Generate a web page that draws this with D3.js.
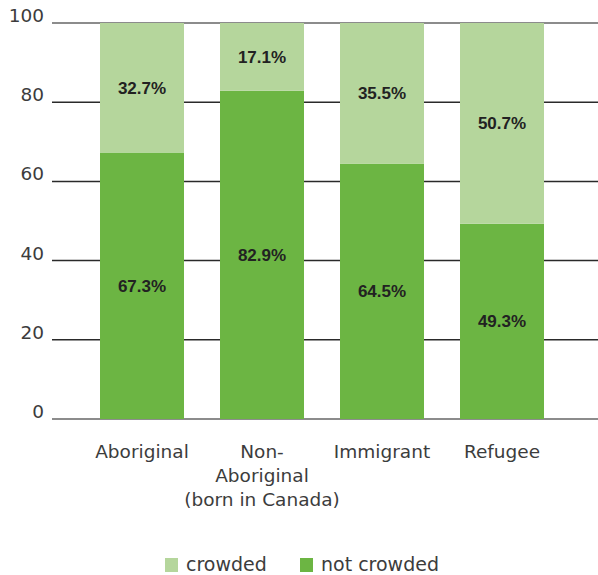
<!DOCTYPE html>
<html><head><meta charset="utf-8">
<script src="https://cdn.jsdelivr.net/npm/d3@7"></script>
<style>body{margin:0;background:#fff}svg{display:block}</style>
</head><body>
<svg id="c" width="598" height="575"></svg>
<script>
const categories = [["Aboriginal"], ["Non-", "Aboriginal", "(born in Canada)"], ["Immigrant"], ["Refugee"]];
const notCrowded = [67.3, 82.9, 64.5, 49.3];
const crowded = [32.7, 17.1, 35.5, 50.7];
const yTicks = [0, 20, 40, 60, 80, 100];
const seriesNames = ["crowded", "not crowded"];
const colors = {"crowded": "#b5d69c", "not crowded": "#6cb543"};

const svg = d3.select("#c");
const font = "'DejaVu Sans', sans-serif";
const bold = "'Liberation Sans', Arial, sans-serif";
const x = d3.scaleBand().domain(d3.range(categories.length)).range([82, 562]).paddingInner(0.3).paddingOuter(0.15);
const y = d3.scaleLinear().domain([0, 100]).range([419, 23]);

svg.append("g").selectAll("line").data(yTicks).join("line")
  .attr("x1", 52).attr("x2", 598)
  .attr("y1", d => y(d)).attr("y2", d => y(d))
  .attr("stroke", d => (d === 0 || d === 100) ? "#666" : "#2a2a2a")
  .attr("stroke-width", 1.5);

svg.append("g").selectAll("text").data(yTicks).join("text")
  .attr("x", 44).attr("y", d => y(d) - 1)
  .attr("text-anchor", "end")
  .attr("font-family", font).attr("font-size", 18.5)
  .attr("fill", "#3c3c3c").text(d => d);

const stackData = categories.map((c, i) => ({i, "not crowded": notCrowded[i], "crowded": crowded[i]}));
const stack = d3.stack().keys(["not crowded", "crowded"])(stackData);

const g = svg.append("g");
stack.forEach(layer => {
  g.selectAll(null).data(layer).join("rect")
    .attr("x", d => x(d.data.i)).attr("width", x.bandwidth())
    .attr("y", d => y(d[1])).attr("height", d => y(d[0]) - y(d[1]))
    .attr("fill", colors[layer.key]);
  g.selectAll(null).data(layer).join("text")
    .attr("x", d => x(d.data.i) + x.bandwidth() / 2)
    .attr("y", d => (y(d[0]) + y(d[1])) / 2 + 6)
    .attr("text-anchor", "middle")
    .attr("font-family", bold).attr("font-weight", 700).attr("font-size", 17)
    .attr("fill", "#222").text(d => d.data[layer.key].toFixed(1) + "%");
});

const xl = svg.append("g");
categories.forEach((lines, i) => {
  const t = xl.append("text")
    .attr("text-anchor", "middle")
    .attr("font-family", font).attr("font-size", 18.5)
    .attr("fill", "#3c3c3c");
  lines.forEach((l, j) => {
    t.append("tspan").attr("x", x(i) + x.bandwidth() / 2).attr("y", 458 + j * 24).text(l);
  });
});

const legendX = [165, 300];
const lg = svg.append("g");
seriesNames.forEach((n, i) => {
  lg.append("rect").attr("x", legendX[i]).attr("y", 558).attr("width", 13).attr("height", 14).attr("fill", colors[n]);
  lg.append("text").attr("x", legendX[i] + 21).attr("y", 571)
    .attr("font-family", font).attr("font-size", 19)
    .attr("fill", "#3c3c3c").text(n);
});
</script>
</body></html>
